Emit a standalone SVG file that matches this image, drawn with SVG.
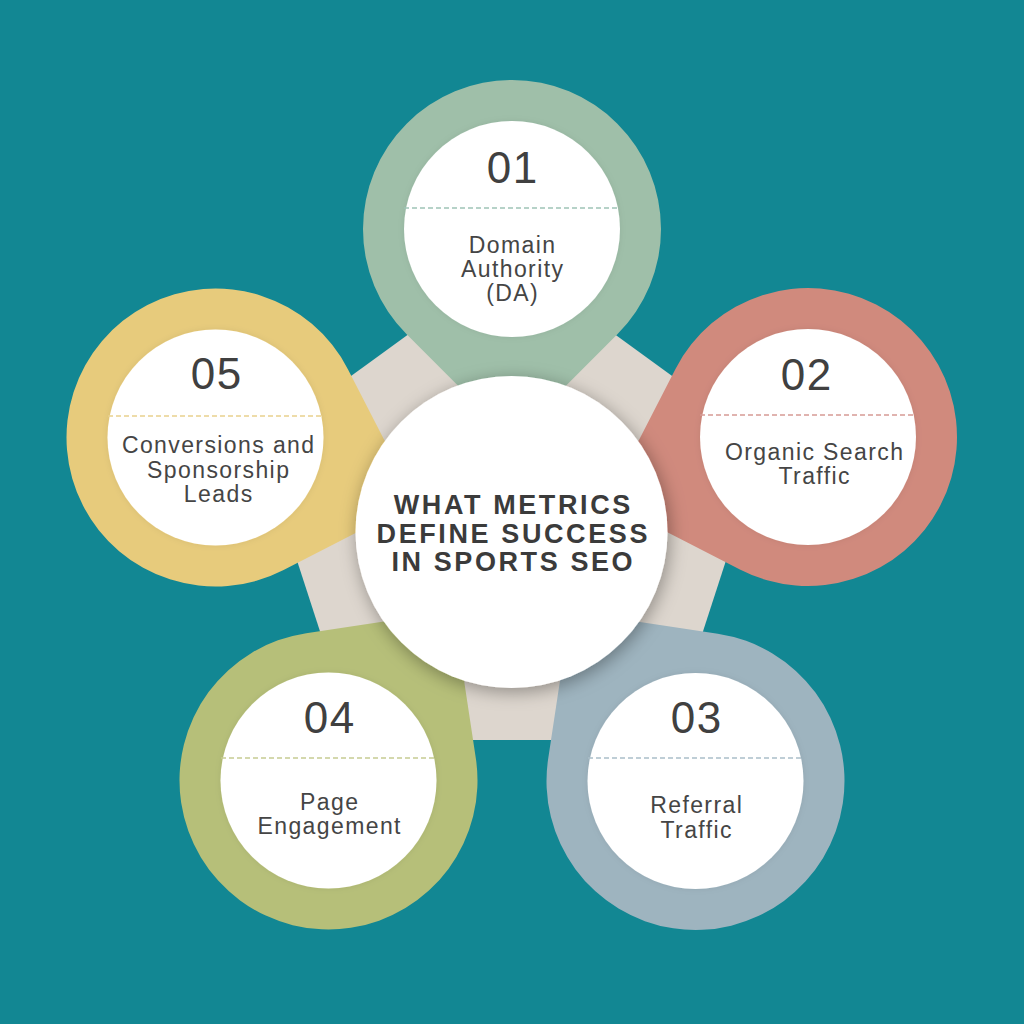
<svg xmlns="http://www.w3.org/2000/svg" width="1024" height="1024" viewBox="0 0 1024 1024">
  <defs>
    <style>
      .num { font-family: "Liberation Sans", Arial, sans-serif; font-size: 44px; fill: #404040; text-anchor: middle; letter-spacing: 1.5px; }
      .lbl { font-family: "Liberation Sans", Arial, sans-serif; font-size: 23px; fill: #454545; text-anchor: middle; letter-spacing: 1.4px; }
      .title { font-family: "Liberation Sans", Arial, sans-serif; font-size: 27px; font-weight: bold; fill: #3b3b3b; text-anchor: middle; letter-spacing: 2.6px; }
      .inner { fill: #ffffff; }
      .dash { stroke-width: 1.6; stroke-dasharray: 5 3; fill: none; }
    </style>
    <path id="pin" d="M -105.36 105.36 A 149 149 0 1 1 105.36 105.36 L 0 210.7 Z"/>
    <filter id="shadow" x="-30%" y="-30%" width="160%" height="160%">
      <feDropShadow dx="2" dy="4" stdDeviation="9" flood-color="#000000" flood-opacity="0.35"/>
    </filter>
    <filter id="soft" x="-30%" y="-30%" width="160%" height="160%">
      <feDropShadow dx="0" dy="0" stdDeviation="3" flood-color="#000000" flood-opacity="0.08"/>
    </filter>
  </defs>

  <rect x="0" y="0" width="1024" height="1024" fill="#128793"/>

  <g id="pentagon">
    <polygon points="511.5,259.3 764.2,442.9 667.7,740 355.3,740 258.8,442.9" fill="#ddd6ce"/>
  </g>

  <g id="connectors"></g>

  <g id="node-01">
    <use href="#pin" transform="translate(512,229)" fill="#9fbfa9"/>
    <circle class="inner" cx="512" cy="229" r="108" filter="url(#soft)"/>
    <line class="dash" x1="404" y1="208" x2="620" y2="208" stroke="#9ec3b6"/>
    <text class="num" x="512.7" y="183">01</text>
    <text class="lbl" x="512.7" y="253">Domain</text>
    <text class="lbl" x="512.7" y="277">Authority</text>
    <text class="lbl" x="512.7" y="301">(DA)</text>
  </g>

  <g id="node-02">
    <use href="#pin" transform="translate(808,437) rotate(72.2)" fill="#d08a7d"/>
    <circle class="inner" cx="808" cy="437" r="108" filter="url(#soft)"/>
    <line class="dash" x1="700" y1="415" x2="916" y2="415" stroke="#d69b95"/>
    <text class="num" x="806.7" y="390">02</text>
    <text class="lbl" x="814.7" y="460">Organic Search</text>
    <text class="lbl" x="814.7" y="484">Traffic</text>
  </g>

  <g id="node-03">
    <use href="#pin" transform="translate(695.5,781) rotate(143.6)" fill="#9eb4bf"/>
    <circle class="inner" cx="695.5" cy="781" r="108" filter="url(#soft)"/>
    <line class="dash" x1="588" y1="758" x2="803" y2="758" stroke="#aabfc9"/>
    <text class="num" x="696.7" y="733">03</text>
    <text class="lbl" x="696.7" y="813">Referral</text>
    <text class="lbl" x="696.7" y="838">Traffic</text>
  </g>

  <g id="node-04">
    <use href="#pin" transform="translate(328.5,780.5) rotate(-143.6)" fill="#b6bf79"/>
    <circle class="inner" cx="328.5" cy="780.5" r="108" filter="url(#soft)"/>
    <line class="dash" x1="221" y1="758" x2="436" y2="758" stroke="#c6cb92"/>
    <text class="num" x="329.7" y="733">04</text>
    <text class="lbl" x="329.7" y="810">Page</text>
    <text class="lbl" x="329.7" y="834">Engagement</text>
  </g>

  <g id="node-05">
    <use href="#pin" transform="translate(215.5,437.5) rotate(-72.2)" fill="#e7cb7c"/>
    <circle class="inner" cx="215.5" cy="437.5" r="108" filter="url(#soft)"/>
    <line class="dash" x1="108" y1="416" x2="323" y2="416" stroke="#e9d18d"/>
    <text class="num" x="216.7" y="389">05</text>
    <text class="lbl" x="218.7" y="453">Conversions and</text>
    <text class="lbl" x="218.7" y="478">Sponsorship</text>
    <text class="lbl" x="218.7" y="502">Leads</text>
  </g>

  <g id="center">
    <circle cx="511.5" cy="532" r="156" fill="#ffffff" filter="url(#shadow)"/>
    <text class="title" x="513.3" y="514">WHAT METRICS</text>
    <text class="title" x="513.3" y="543">DEFINE SUCCESS</text>
    <text class="title" x="513.3" y="571">IN SPORTS SEO</text>
  </g>
</svg>
